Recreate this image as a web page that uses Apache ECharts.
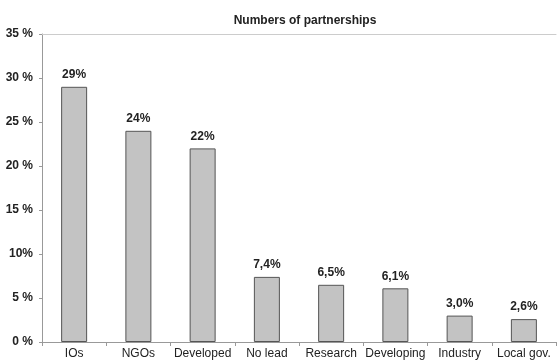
<!DOCTYPE html>
<html><head><meta charset="utf-8">
<script src="https://cdn.jsdelivr.net/npm/echarts@6/dist/echarts.min.js"></script>
<style>html,body{margin:0;padding:0;background:#fff}#c{width:558px;height:360px}</style>
</head><body><div id="c"></div>
<script>
const categories = ['IOs','NGOs','Developed','No lead','Research','Developing','Industry','Local gov.'];
const values = [29, 24, 22, 7.4, 6.5, 6.1, 3.0, 2.6];
const valueLabels = ['29%','24%','22%','7,4%','6,5%','6,1%','3,0%','2,6%'];
const tickLabels = {0:'0 %',5:'5 %',10:'10%',15:'15 %',20:'20 %',25:'25 %',30:'30 %',35:'35 %'};
const FONT = "'Liberation Sans Narrow','Arial Narrow','Liberation Sans',Arial,sans-serif";

const chart = echarts.init(document.getElementById('c'));
chart.setOption({
  animation: false,
  title: {text: 'Numbers of partnerships', left: 300, top: 10, textAlign: 'center',
    textStyle: {fontFamily: FONT, fontSize: 12, fontWeight: 'bold', color: '#222'}},
  grid: {left: 42, right: 2, top: 34, bottom: 15},
  xAxis: [{
    type: 'category', data: categories,
    axisLine: {lineStyle: {color: '#999'}},
    axisTick: {show: true, alignWithLabel: false, length: 4, lineStyle: {color: '#999'}},
    axisLabel: {interval: 0, hideOverlap: false, fontFamily: FONT, fontSize: 12, color: '#222', margin: 6}
  },{
    type: 'category', data: categories, position: 'top',
    axisLine: {lineStyle: {color: '#ccc'}}, axisTick: {show: false}, axisLabel: {show: false}
  }],
  yAxis: {
    type: 'value', min: 0, max: 35, interval: 5,
    axisLine: {show: true, lineStyle: {color: '#999'}},
    axisTick: {show: true, length: 3, lineStyle: {color: '#999'}},
    splitLine: {show: false},
    axisLabel: {fontFamily: FONT, fontSize: 12, fontWeight: 'bold', color: '#222', margin: 9,
      formatter: v => tickLabels[v] ?? ''}
  },
  series: [{
    type: 'bar', data: values, barWidth: 26,
    itemStyle: {color: '#c3c3c3', borderColor: '#555', borderWidth: 1},
    label: {show: true, position: 'top', distance: 6, fontFamily: FONT, fontSize: 12,
      fontWeight: 'bold', color: '#222', formatter: p => valueLabels[p.dataIndex]}
  }]
});
</script></body></html>
